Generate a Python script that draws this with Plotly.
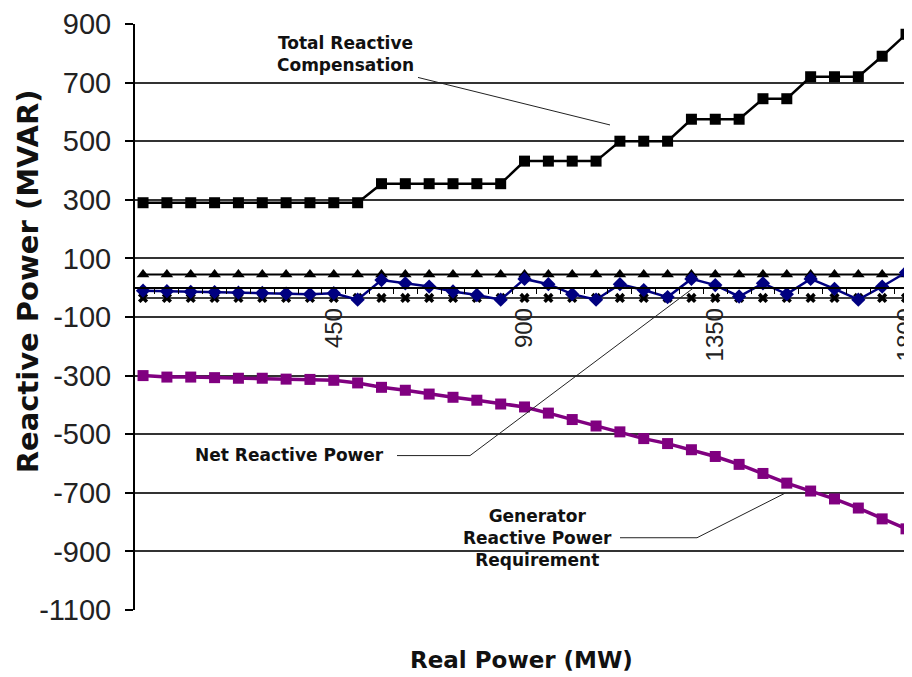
import plotly.graph_objects as go

# ---- data ----
real_power = [0, 56.25, 112.5, 168.75, 225, 281.25, 337.5, 393.75, 450, 506.25, 562.5,
              618.75, 675, 731.25, 787.5, 843.75, 900, 956.25, 1012.5, 1068.75, 1125,
              1181.25, 1237.5, 1293.75, 1350, 1406.25, 1462.5, 1518.75, 1575, 1631.25,
              1687.5, 1743.75, 1800]

total_comp = [290, 290, 290, 290, 290, 290, 290, 290, 290, 290,
              355, 355, 355, 355, 355, 355,
              432, 432, 432, 432,
              500, 500, 500,
              575, 575, 575,
              645, 645,
              720, 720, 720,
              790, 865]

gen_req = [-300, -305, -305, -307, -309, -309, -312, -313, -316, -325, -340,
           -350, -363, -374, -384, -397, -407, -428, -450, -472, -492,
           -515, -532, -553, -576, -603, -634, -667, -694, -721, -752,
           -789, -823]

net_power = [-10, -12, -14, -15, -17, -18, -20, -22, -19, -41, 26,
             15, 4, -13, -25, -41, 30, 12, -22, -41, 12,
             -8, -32, 30, 9, -30, 15, -22, 30, -4, -41,
             4, 52]

upper_limit = [45, 45, 45, 45, 45, 45, 45, 45, 45, 45, 45,
               45, 45, 45, 45, 45, 45, 45, 45, 45, 45,
               45, 45, 45, 45, 45, 45, 45, 45, 45, 45,
               45, 45]

lower_limit = [-35, -35, -35, -35, -35, -35, -35, -35, -35, -35, -35,
               -35, -35, -35, -35, -35, -35, -35, -35, -35, -35,
               -35, -35, -35, -35, -35, -35, -35, -35, -35, -35,
               -35, -35]

x_tick_vals = [450, 900, 1350, 1800]
x_tick_text = ["450", "900", "1350", "1800"]
y_tick_vals = [-1100, -900, -700, -500, -300, -100, 100, 300, 500, 700, 900]
y_tick_text = ["-1100", "-900", "-700", "-500", "-300", "-100", "100", "300", "500", "700", "900"]

# ---- figure ----
fig = go.Figure()

fig.add_trace(go.Scatter(x=real_power, y=upper_limit, mode="lines+markers",
                         line=dict(color="black", width=2),
                         marker=dict(symbol="triangle-up", size=11, color="black")))
fig.add_trace(go.Scatter(x=real_power, y=lower_limit, mode="lines+markers",
                         line=dict(color="black", width=1.5),
                         marker=dict(symbol="x", size=9, color="black")))
fig.add_trace(go.Scatter(x=real_power, y=total_comp, mode="lines+markers",
                         line=dict(color="black", width=2.5),
                         marker=dict(symbol="square", size=11, color="black")))
fig.add_trace(go.Scatter(x=real_power, y=gen_req, mode="lines+markers",
                         line=dict(color="#800080", width=3.5),
                         marker=dict(symbol="square", size=11, color="#800080")))
fig.add_trace(go.Scatter(x=real_power, y=net_power, mode="lines+markers",
                         line=dict(color="#000080", width=2.5),
                         marker=dict(symbol="diamond", size=11, color="#000080")))

# page has an 8px body margin; the figure is offset by it
OFF = 8
W, H = 912, 677
PL, PT, PB, PR = 135, 18, 610, 920      # plot area edges in page pixels
ML, MT = PL - OFF, PT - OFF
MB = H + OFF - PB
MR = W + OFF - PR
PW, PH = PR - PL, PB - PT


def fx(px):
    return (px - PL) / PW


def fy(py):
    return (PB - py) / PH


TF = "DejaVu Sans, Verdana, sans-serif"
ann_font = dict(family=TF, size=17, color="#111")
C = dict(xref="paper", yref="paper", showarrow=False, xanchor="center", yanchor="middle")
annotations = [
    dict(text="<b>Total Reactive<br>Compensation</b>", x=fx(345), y=fy(48),
         font=ann_font, align="center", **C),
    dict(text="<b>Net Reactive Power</b>", x=fx(289), y=fy(453),
         font=ann_font, align="center", **C),
    dict(text="<b>Generator<br>Reactive Power<br>Requirement</b>", x=fx(537), y=fy(537),
         font=ann_font, align="center", **C),
    dict(text="<b>Real Power (MW)</b>", x=fx(521), y=fy(661),
         font=dict(family=TF, size=23, color="#111"), **C),
    dict(text="<b>Reactive Power (MVAR)</b>", x=fx(28), y=fy(278), textangle=-90,
         font=dict(family=TF, size=29, color="#111"), **C),
]

leader = dict(color="#222", width=1)
segments = [((418, 72), (610, 120)),
            ((397, 454), (470, 454)), ((470, 454), (693, 285)),
            ((620, 537), (697, 537)), ((697, 537), (785, 492))]
shapes = [dict(type="line", xref="paper", yref="paper",
               x0=fx(a[0]), y0=fy(a[1]), x1=fx(b[0]), y1=fy(b[1]), line=leader)
          for a, b in segments]

fig.update_layout(
    width=W, height=H,
    margin=dict(l=ML, r=MR, t=MT, b=MB, pad=0),
    plot_bgcolor="white", paper_bgcolor="white",
    showlegend=False,
    annotations=annotations,
    shapes=shapes,
    xaxis=dict(range=[-19, 1833], anchor="free", position=0.55,
               showline=True, linecolor="black", linewidth=1.5,
               tickmode="array", tickvals=x_tick_vals, ticktext=x_tick_text,
               tickangle=-90, ticks="", ticklabelstandoff=10,
               tickfont=dict(family="Liberation Sans, Arial", size=24, color="#222"),
               showgrid=False, zeroline=False,
               minor=dict(ticks="outside", tick0=28.125, dtick=56.25, ticklen=6,
                          tickcolor="black", tickwidth=1, showgrid=False)),
    yaxis=dict(range=[-1100, 900], tickmode="array", tickvals=y_tick_vals, ticktext=y_tick_text,
               showgrid=True, gridcolor="#333", gridwidth=2,
               showline=True, linecolor="black", linewidth=2,
               ticks="outside", ticklen=8, tickwidth=2, tickcolor="black",
               ticklabelstandoff=8, ticklabeloverflow="allow",
               tickfont=dict(family="Liberation Sans, Arial", size=29, color="#222"),
               zeroline=False),
)

fig.write_html("out.html")
